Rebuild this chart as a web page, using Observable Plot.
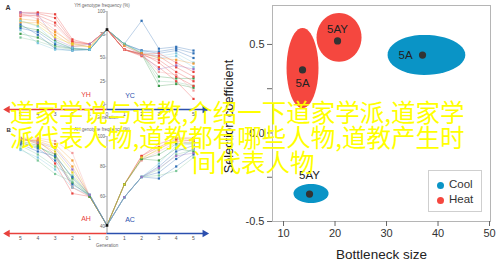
<!DOCTYPE html>
<html><head><meta charset="utf-8">
<script src="https://cdn.jsdelivr.net/npm/d3@7"></script>
<script src="https://cdn.jsdelivr.net/npm/@observablehq/plot@0.6"></script>
<style>
body{margin:0;background:#fff;}
#wrap{position:relative;width:500px;height:268px;overflow:hidden;background:#fff;}
#wrap svg{position:absolute;background:transparent;overflow:visible;}
#legend{position:absolute;left:428px;top:170px;width:52px;height:40px;border:1px solid #cfcfcf;background:#fff;font:11.5px "Liberation Sans",Arial,sans-serif;color:#333;}
#legend .it{position:absolute;left:8px;height:14px;line-height:14px;}
#legend .sw{display:inline-block;width:7px;height:7px;border-radius:50%;margin-right:5px;vertical-align:-0.5px;}
#overlay{position:absolute;left:0;top:99px;width:500px;font:24.5px "Noto Sans CJK SC",sans-serif;color:#ffff00;line-height:25px;white-space:nowrap;}
#overlay div{position:absolute;}
</style></head><body><div id="wrap"></div>
<script>
// ---------- left panels: genotype frequencies by generation ----------
const gens = [1, 2, 3, 4, 5];
const groupKeys = ["r", "p", "o", "y", "g", "t", "b", "c", "v"];
const groupColors = ["#e8413c", "#f29a9a", "#f39c34", "#e3cf2a", "#3a9a4a", "#7cc79a", "#2f6fb5", "#7cc6dd", "#9b72c4"];

// A: YH (left) / YC (right), start value at generation 0
const startA = 80.6;
const yhGroups = ["r","r","r","p","p","o","o","y","v","g","g","t","b","b","c","c"];
const yhValues = [
  [65,70,97,99,99],[65,68,93,98,97],[65,67,88,96,95],[65,66,85,92,98],
  [65,64,80,95,96],[62,66,78,90,92],[62,63,75,88,88],[62,65,72,85,90],
  [65,62,70,97,99],[59,60,68,80,84],[59,60,63,72,76],[59,59,62,68,72],
  [59,58,60,75,86],[59,60,65,78,82],[59,58,59,66,80],[59,61,67,84,90]
];
const ycGroups = ["b","b","b","c","c","g","g","t","r","r","r","r","r","p","v","o"];
const ycValues = [
  [65,90,60,62,58],[65,58,57,60,55],[65,58,55,58,50],[65,57,52,55,45],
  [65,56,50,52,40],[65,55,30,28,28],[59,54,20,22,18],[65,55,25,24,20],
  [59,54,52,40,30],[59,53,48,35,25],[59,55,45,30,20],[59,52,40,25,6],
  [59,54,55,45,35],[59,53,35,32,15],[63,54,38,42,38],[63,55,50,48,44]
];
// B: AH (left) / AC (right)
const startB = 40.7;
const ahGroups = ["r","r","p","o","o","y","g","g","t","t","b","b","c","v"];
const ahValues = [
  [60,62,82,95,99],[60,66,88,97,98],[60,89,97,99,99],[60,84,95,98,97],
  [60,80,93,97,99],[60,76,90,96,98],[60,69,86,94,97],[60,72,88,93,96],
  [61,74,80,88,94],[61,70,75,84,92],[61,68,84,92,96],[61,73,87,90,95],
  [61,66,78,86,91],[61,78,92,96,99]
];
const acGroups = ["r","r","p","o","g","g","y","b","b","b","t","t","c","v"];
const acValues = [
  [68,87,95,99,99],[68,87,93,98,97],[68,84,90,96,98],[68,85,92,97,95],
  [68,85,88,95,96],[68,85,84,92,90],[68,86,91,99,98],[59.5,73,80,90,94],
  [59.5,73,76,85,92],[59.5,73,72,80,88],[59.5,73,78,88,91],[59.5,73,74,77,86],
  [59.5,73,82,94,95],[59.5,73,79,87,89]
];
const genTicks = [-5,-4,-3,-2,-1,0,1,2,3,4,5];
const yTicksA = [0, 25, 50, 75, 100];
const yTicksB = [40, 60, 80, 100];

// ---------- right panel: bottleneck size vs selection coefficient ----------
const blobGroups = ["Heat", "Heat", "Cool", "Cool"];
const blobLabels = ["5A", "5AY", "5A", "5AY"];
const pointX = [13.69, 20.49, 36.99, 15.05];
const pointY = [0.356, 0.52, 0.44, -0.345];
const blobCx = [13.69, 20.78, 37.3, 15.34];
const blobCy = [0.367, 0.540, 0.441, -0.342];
const blobLeft = [3.1, 4.37, 7.1, 3.4];
const blobRight = [3.1, 4.37, 8.0, 3.4];
const blobTop = [0.226, 0.138, 0.113, 0.054];
const blobBottom = [0.226, 0.138, 0.113, 0.054];
const legendKeys = ["Cool", "Heat"];
const legendColors = ["#0a94c6", "#f5473f"];

const wrap = document.getElementById("wrap");

function buildRows(values, groups, side, start, panel) {
  const rows = [];
  values.forEach((vals, i) => {
    rows.push({id: panel + i, g: groups[i], x: 0, v: start});
    vals.forEach((v, j) => rows.push({id: panel + i, g: groups[i], x: side * gens[j], v}));
  });
  return rows;
}

function genPanel(opts) {
  const rows = buildRows(opts.leftValues, opts.leftGroups, -1, opts.start, "L")
    .concat(buildRows(opts.rightValues, opts.rightGroups, 1, opts.start, "R"));
  const base = opts.yDomain[0];
  const svg = Plot.plot({
    width: 210, height: opts.height,
    marginLeft: 20, marginRight: 17, marginTop: opts.marginTop, marginBottom: opts.marginBottom,
    x: {domain: [-5, 5]},
    y: {domain: opts.yDomain, axis: null},
    color: {domain: groupKeys, range: groupColors},
    style: {fontFamily: "Liberation Sans, Arial, sans-serif", background: "transparent", color: "#555"},
    marks: [
      Plot.ruleX([0], {y1: base, y2: opts.yDomain[1], stroke: "#9a9a9a", strokeWidth: 1}),
      Plot.ruleY(opts.yTicks, {x1: -0.12, x2: 0, stroke: "#9a9a9a", strokeWidth: 0.6}),
      Plot.text(opts.yTicks, {x: () => 0, y: d => d, text: d => String(d), dx: -2, textAnchor: "end", fontSize: 4.5, fill: "#666"}),
      Plot.line(rows, {x: "x", y: "v", z: "id", stroke: "g", strokeOpacity: 0.45, strokeWidth: 0.7}),
      Plot.dot(rows.filter(d => d.x !== 0), {x: "x", y: "v", fill: "g", r: 1.25, symbol: "square"}),
      Plot.dot([opts.start], {x: () => 0, y: d => d, fill: "#111", r: 1.5, symbol: "square"}),
      Plot.ruleY([base], {x1: -5.75, x2: 0, stroke: "#e8413c", strokeWidth: 1.3}),
      Plot.ruleY([base], {x1: 0, x2: 5.65, stroke: "#2b4fae", strokeWidth: 1.3}),
      Plot.dot([base], {x: () => -5.75, y: d => d, symbol: "triangle", rotate: -90, r: 2.8, fill: "#e8413c"}),
      Plot.dot([base], {x: () => 5.65, y: d => d, symbol: "triangle", rotate: 90, r: 2.8, fill: "#2b4fae"}),
      Plot.axisX({ticks: genTicks, tickFormat: d => Math.abs(d), tickSize: 0, tickPadding: 3, fontSize: 5, label: null, fill: "#555"}),
      Plot.text(["Generation"], {frameAnchor: "bottom", dy: opts.genDy, fontSize: 4.5, fill: "#666"}),
      Plot.text([opts.title], {frameAnchor: "top", dx: -5, dy: opts.titleDy, fontSize: 4.5, fill: "#666"}),
      Plot.text([opts.letter], {frameAnchor: "top-left", dx: opts.letterDx, dy: opts.letterDy, fontSize: opts.letterSize, fontWeight: "bold", fill: "#333"}),
      Plot.text([opts.leftName], {frameAnchor: "bottom", dx: -21, dy: -13, fontSize: 7, fill: "#e8413c"}),
      Plot.text([opts.rightName], {frameAnchor: "bottom", dx: 23, dy: -12, fontSize: 7, fill: "#2b4fae"})
    ]
  });
  svg.style.left = "0px";
  svg.style.top = opts.top + "px";
  wrap.appendChild(svg);
}

genPanel({
  top: 0, height: 125, marginTop: 11, marginBottom: 16, yDomain: [-5.4, 100], yTicks: yTicksA,
  start: startA, leftValues: yhValues, leftGroups: yhGroups, rightValues: ycValues, rightGroups: ycGroups,
  title: "YH genotype frequency (%)", titleDy: -8, letter: "A", letterDx: -15, letterDy: -6, letterSize: 7, genDy: 9,
  leftName: "YH", rightName: "YC"
});
genPanel({
  top: 120, height: 140, marginTop: 16, marginBottom: 27, yDomain: [35.3, 100], yTicks: yTicksB,
  start: startB, leftValues: ahValues, leftGroups: ahGroups, rightValues: acValues, rightGroups: acGroups,
  title: "AH genotype frequency (%)", titleDy: -9, letter: "B", letterDx: -14, letterDy: -9, letterSize: 6, genDy: 13,
  leftName: "AH", rightName: "AC"
});

// blobs outline from centre and spreads
const blobRows = [];
blobGroups.forEach((g, i) => {
  for (let k = 0; k < 48; k++) {
    const t = (k / 48) * 2 * Math.PI, c = Math.cos(t), s = Math.sin(t);
    blobRows.push({
      id: i, g,
      x: blobCx[i] + (c >= 0 ? blobRight[i] : blobLeft[i]) * c,
      y: blobCy[i] + (s >= 0 ? blobTop[i] : blobBottom[i]) * s
    });
  }
});
const pts = blobGroups.map((g, i) => ({g, label: blobLabels[i], x: pointX[i], y: pointY[i], i}));

const scatter = Plot.plot({
  width: 285, height: 268,
  marginLeft: 57, marginRight: 10, marginTop: 5, marginBottom: 47,
  x: {domain: [7.86, 50.19]},
  y: {domain: [-0.5, 0.72]},
  color: {domain: legendKeys, range: legendColors},
  style: {fontFamily: "Liberation Sans, Arial, sans-serif", fontSize: "11px", background: "transparent", color: "#333"},
  marks: [
    Plot.line(blobRows, {x: "x", y: "y", z: "id", fill: "g", stroke: "none", curve: "linear-closed"}),
    Plot.frame({stroke: "#b5b5b5"}),
    Plot.dot(pts, {x: "x", y: "y", r: 3.6, fill: "#333"}),
    Plot.text(pts.filter(d => d.i === 0), {x: "x", y: "y", text: "label", dy: 13, fontSize: 11.5, fill: "#222"}),
    Plot.text(pts.filter(d => d.i === 1), {x: "x", y: "y", text: "label", dy: -12, fontSize: 11.5, fill: "#222"}),
    Plot.text(pts.filter(d => d.i === 2), {x: "x", y: "y", text: "label", dx: -17, fontSize: 11.5, fill: "#222"}),
    Plot.text(pts.filter(d => d.i === 3), {x: "x", y: "y", text: "label", dy: -19, fontSize: 11.5, fill: "#222"}),
    Plot.axisX({ticks: [10, 20, 30, 40, 50], tickSize: 5, tickPadding: 3, label: null, stroke: "#666", fontSize: 11}),
    Plot.axisY({ticks: [-0.5, -0.25, 0, 0.25, 0.5], tickFormat: d => (Math.abs(d * 2) % 1 === 0 ? d.toFixed(1) : ""), tickSize: 5, tickPadding: 3, label: null, stroke: "#666", fontSize: 11}),
    Plot.text(["Bottleneck size"], {frameAnchor: "bottom", dy: 37, fontSize: 13.5, fill: "#222"}),
    Plot.text(["Selection coefficient"], {frameAnchor: "left", dx: -44, dy: 3, rotate: -90, textAnchor: "middle", fontSize: 12.8, fill: "#222"})
  ]
});
scatter.style.left = "215px";
scatter.style.top = "0px";
wrap.appendChild(scatter);

// legend
const leg = document.createElement("div");
leg.id = "legend";
legendKeys.forEach((k, i) => {
  const it = document.createElement("div");
  it.className = "it";
  it.style.top = (6 + i * 15) + "px";
  it.innerHTML = `<span class="sw" style="background:${legendColors[i]}"></span>${k}`;
  leg.appendChild(it);
});
wrap.appendChild(leg);

// overlay caption text
const captionLines = ["道家学说与道教,介绍一下道家学派,道家学", "派代表人物,道教都有哪些人物,道教产生时", "间代表人物"];
const captionLeft = [10, 10, 192];
const ov = document.createElement("div");
ov.id = "overlay";
captionLines.forEach((t, i) => {
  const d = document.createElement("div");
  d.textContent = t;
  d.style.left = captionLeft[i] + "px";
  d.style.top = (i * 25) + "px";
  ov.appendChild(d);
});
wrap.appendChild(ov);
</script></body></html>
